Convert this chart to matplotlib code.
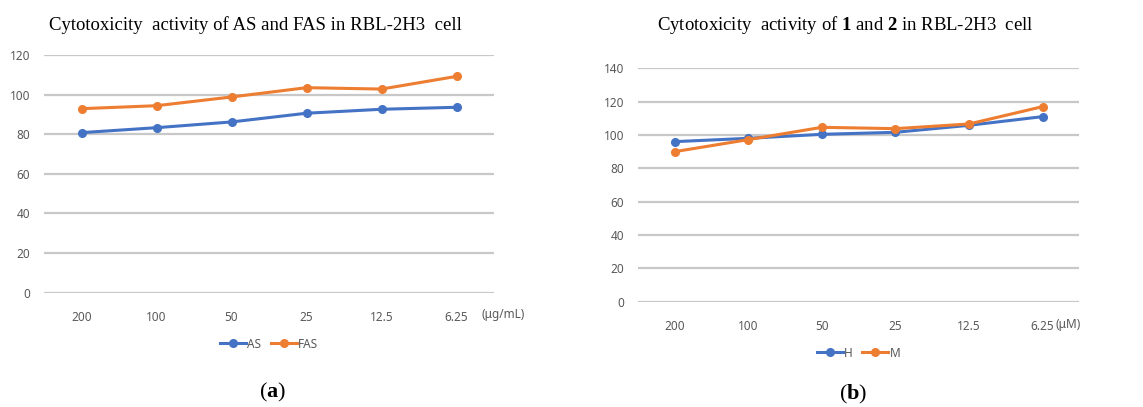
import matplotlib.pyplot as plt

plt.rcParams['mathtext.fontset'] = 'custom'
plt.rcParams['mathtext.rm'] = 'Liberation Serif'
plt.rcParams['mathtext.bf'] = 'Liberation Serif:bold'

concentrations = ['200', '100', '50', '25', '12.5', '6.25']

as_values = [80.8, 83.3, 86.2, 90.6, 92.6, 93.6]
fas_values = [92.9, 94.4, 98.8, 103.5, 102.8, 109.2]

h_values = [96.0, 98.0, 100.4, 101.6, 105.8, 111.0]
m_values = [90.0, 97.2, 104.6, 103.8, 106.6, 117.0]

BLUE = '#4472C4'
ORANGE = '#ED7D31'
GRID = '#C8C8C8'
TICK = '#595959'


def draw_panel(ax, series, labels, ymax, unit, unit_x, unit_y, leg_y):
    x = range(len(concentrations))
    for vals, lab, col in zip(series, labels, [BLUE, ORANGE]):
        ax.plot(x, vals, color=col, lw=2.2, marker='o', ms=5.5,
                label=lab, clip_on=False, zorder=3)
    ax.set_xlim(-0.5, len(concentrations) - 0.5)
    ax.set_ylim(0, ymax)
    ax.set_yticks(range(0, ymax + 1, 20))
    ax.set_xticks(list(x))
    ax.set_xticklabels(concentrations)
    ax.yaxis.grid(True, color=GRID, lw=1.6)
    ax.set_axisbelow(True)
    for s in ax.spines.values():
        s.set_visible(False)
    ax.tick_params(length=0, colors=TICK, labelsize=8.5)
    ax.tick_params(axis='x', pad=13)
    ax.tick_params(axis='y', pad=10)
    for t in ax.get_xticklabels() + ax.get_yticklabels():
        t.set_fontfamily('Noto Sans')
    ax.text(unit_x, unit_y, unit, transform=ax.transAxes, ha='left', va='center',
            fontsize=8.5, color=TICK, fontfamily='Noto Sans')
    leg = ax.legend(loc='center', bbox_to_anchor=(0.5, leg_y), ncol=2, frameon=False,
                    handlelength=2.2, handletextpad=0.1, columnspacing=0.8,
                    prop={'family': 'Noto Sans', 'size': 8.5})
    for t in leg.get_texts():
        t.set_color(TICK)


fig = plt.figure(figsize=(11.43, 4.07), dpi=100)

ax1 = fig.add_axes([0.0385, 0.2808, 0.3937, 0.5841])
ax2 = fig.add_axes([0.558, 0.2587, 0.3863, 0.5735])

draw_panel(ax1, [as_values, fas_values], ['AS', 'FAS'], 120, '(μg/mL)', 0.973, -0.09, -0.216)
draw_panel(ax2, [h_values, m_values], ['H', 'M'], 140, '(μM)', 0.945, -0.097, -0.22)

fig.text(0.2231, 0.938, 'Cytotoxicity  activity of AS and FAS in RBL-2H3  cell',
         ha='center', va='center', fontsize=13.5, fontfamily='Liberation Serif')
fig.text(0.7393, 0.938,
         r'Cytotoxicity  activity of $\mathbf{1}$ and $\mathbf{2}$ in RBL-2H3  cell',
         ha='center', va='center', fontsize=13.5, fontfamily='Liberation Serif')

fig.text(0.2385, 0.035, r'($\mathbf{a}$)', ha='center', va='center', fontsize=16,
         fontfamily='Liberation Serif')
fig.text(0.7463, 0.03, r'($\mathbf{b}$)', ha='center', va='center', fontsize=16,
         fontfamily='Liberation Serif')

fig.savefig('out.png', dpi=100)
